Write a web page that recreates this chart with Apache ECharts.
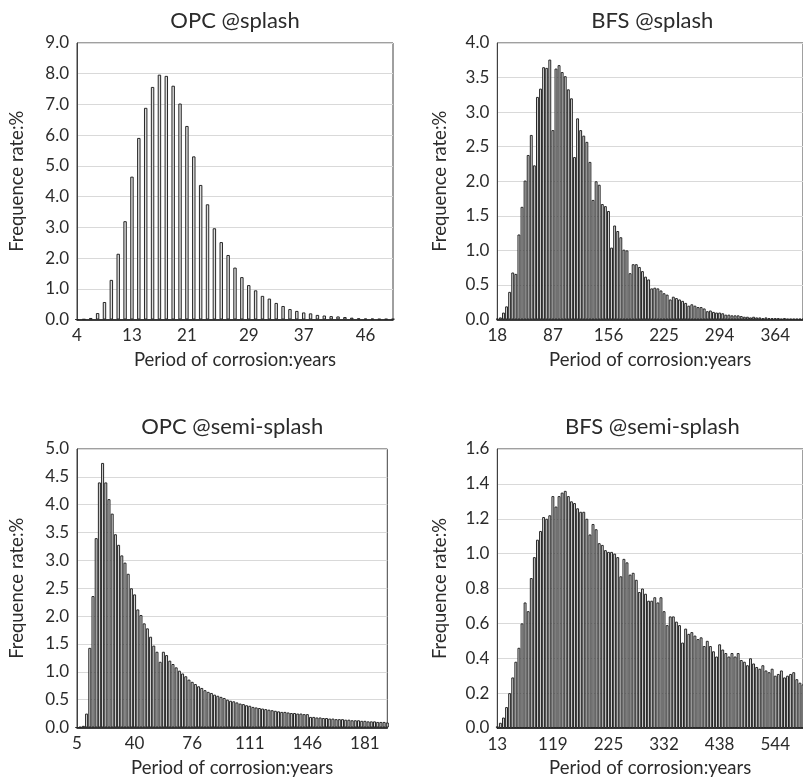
<!DOCTYPE html>
<html><head><meta charset="utf-8">
<script src="https://cdn.jsdelivr.net/npm/echarts@6/dist/echarts.min.js"></script>
<style>html,body{margin:0;padding:0;background:#fff}#c{width:803px;height:780px}</style>
</head><body><div id="c"></div>
<script>
// ---- OPC @splash ----
const opcSplashTicks = ['4','13','21','29','37','46'];
const opcSplashTickIdx = [0,8,16,25,33,42];
const opcSplash = [0,0.01,0.05,0.21,0.57,1.29,2.14,3.2,4.65,5.91,6.89,7.57,7.97,7.93,7.61,7.03,6.3,5.31,4.38,3.75,2.97,2.52,2.1,1.69,1.38,1.12,0.95,0.77,0.68,0.54,0.44,0.34,0.28,0.23,0.2,0.15,0.13,0.11,0.1,0.08,0.06,0.04,0.03,0.03,0.02,0.02,0.02];

// ---- BFS @splash ----
const bfsSplashTicks = ['18','87','156','225','294','364'];
const bfsSplashTickIdx = [0,18,36,54,72,90];
const bfsSplash = [0.01,0.03,0.1,0.19,0.4,0.68,0.66,1.23,1.63,2.01,
2.38,2.67,2.23,3.22,3.34,3.65,3.64,3.76,2.74,3.63,
3.68,3.58,3.52,3.33,3.2,2.35,2.91,2.74,2.66,2.57,
2.28,1.73,2.0,1.95,1.67,1.64,1.57,1.04,1.36,1.28,
1.19,1.01,1.0,0.67,0.8,0.8,0.76,0.7,0.62,0.58,
0.45,0.46,0.45,0.42,0.38,0.36,0.29,0.33,0.31,0.29,
0.27,0.24,0.2,0.22,0.2,0.18,0.18,0.16,0.12,0.13,
0.11,0.1,0.1,0.09,0.07,0.07,0.06,0.06,0.06,0.05,
0.04,0.04,0.03,0.04,0.03,0.03,0.02,0.03,0.02,0.02,
0.02,0.02,0.01,0.02,0.01,0.01,0.01,0.01,0.01,0.01];

// ---- OPC @semi-splash ----
const opcSemiTicks = ['5','40','76','111','146','181'];
const opcSemiTickIdx = [0,18,36,54,72,90];
const opcSemi = [0,0.01,0.03,0.25,1.43,2.36,3.4,4.4,4.75,4.4,
4.1,3.84,3.47,3.28,3.09,2.96,2.76,2.5,2.39,2.12,
2.02,1.87,1.78,1.63,1.47,1.36,1.18,1.36,1.3,1.2,
1.14,1.08,1.02,0.97,0.92,0.86,0.82,0.78,0.74,0.71,
0.67,0.64,0.62,0.59,0.57,0.55,0.53,0.5,0.48,0.47,
0.45,0.43,0.42,0.4,0.39,0.37,0.36,0.35,0.34,0.33,
0.32,0.31,0.3,0.29,0.28,0.28,0.27,0.26,0.26,0.25,
0.25,0.24,0.24,0.19,0.19,0.18,0.18,0.17,0.17,0.16,
0.16,0.15,0.15,0.15,0.14,0.14,0.13,0.13,0.13,0.12,
0.12,0.11,0.11,0.11,0.1,0.1,0.1,0.09];

// ---- BFS @semi-splash ----
const bfsSemiTicks = ['13','119','225','332','438','544'];
const bfsSemiTickIdx = [0,18,36,54,72,90];
const bfsSemi = [0.01,0.03,0.06,0.12,0.2,0.29,0.38,0.46,0.6,0.72,
0.67,0.86,0.98,1.08,1.13,1.21,1.2,1.22,1.33,1.27,
1.33,1.35,1.36,1.33,1.3,1.29,1.26,1.24,1.24,1.2,
1.11,1.17,1.14,1.06,1.05,1.02,1.01,1.01,1.0,0.98,
0.87,0.97,0.95,0.88,0.89,0.85,0.78,0.8,0.77,0.73,
0.73,0.75,0.72,0.75,0.67,0.59,0.64,0.64,0.61,0.59,
0.49,0.57,0.54,0.55,0.53,0.51,0.52,0.47,0.5,0.47,
0.44,0.41,0.48,0.45,0.43,0.41,0.43,0.41,0.43,0.39,
0.38,0.36,0.4,0.37,0.35,0.34,0.36,0.33,0.32,0.34,
0.3,0.31,0.33,0.29,0.3,0.31,0.32,0.28,0.26,0.25];

const FONT = 'Lato';
const TXT = '#2b2b2b';

const panels = [
  {title:'OPC @splash', data:opcSplash, ticks:opcSplashTicks, idx:opcSplashTickIdx, max:9, step:1,
   grid:{left:77, top:43, width:316, height:276.5}, dense:false},
  {title:'BFS @splash', data:bfsSplash, ticks:bfsSplashTicks, idx:bfsSplashTickIdx, max:4, step:0.5,
   grid:{left:497.3, top:43, width:310, height:276.5}, dense:true},
  {title:'OPC @semi-splash', data:opcSemi, ticks:opcSemiTicks, idx:opcSemiTickIdx, max:5, step:0.5,
   grid:{left:77, top:449, width:310.3, height:278.5}, dense:true},
  {title:'BFS @semi-splash', data:bfsSemi, ticks:bfsSemiTicks, idx:bfsSemiTickIdx, max:1.6, step:0.2,
   grid:{left:497.3, top:449, width:310, height:279}, dense:true}
];

const option = {
  animation:false,
  backgroundColor:'#ffffff',
  title: panels.map(p => ({
    text:p.title, left:p.grid.left + p.grid.width/2, top:p.grid.top - 22,
    textAlign:'center', textVerticalAlign:'middle', padding:0,
    textStyle:{fontFamily:FONT, fontSize:22, fontWeight:'normal', color:TXT}
  })),
  grid: panels.map(p => Object.assign({show:true, borderColor:'#404040', borderWidth:1, containLabel:false}, p.grid)),
  xAxis: panels.map((p,i) => ({
    type:'category', gridIndex:i, boundaryGap:false,
    data:p.data.map((_,k)=>k),
    name:'Period of corrosion:years', nameLocation:'middle', nameGap:31,
    nameTextStyle:{fontFamily:FONT, fontSize:18.5, color:TXT},
    axisLine:{show:true, lineStyle:{color:'#000', width:1.5}},
    axisTick:{show:false},
    splitLine:{show:false},
    axisLabel:{
      interval:(k)=>p.idx.indexOf(k)>=0,
      formatter:(v,k)=>{const j=p.idx.indexOf(k); return j>=0?p.ticks[j]:'';},
      fontFamily:FONT, fontSize:17, color:TXT, margin:8
    }
  })),
  yAxis: panels.map((p,i) => ({
    type:'value', gridIndex:i, min:0, max:p.max, interval:p.step,
    name:'Frequence rate:%', nameLocation:'middle', nameRotate:90, nameGap:i%2===0?50:48,
    nameTextStyle:{fontFamily:FONT, fontSize:18.5, color:TXT},
    axisLine:{show:true, lineStyle:{color:'#404040', width:1}},
    axisTick:{show:false},
    splitLine:{show:true, lineStyle:{color:'#d9d9d9', width:1}},
    axisLabel:{formatter:v=>v.toFixed(1), fontFamily:FONT, fontSize:17, color:TXT, margin:8}
  })),
  series: panels.map((p,i) => ({
    type:'bar', xAxisIndex:i, yAxisIndex:i, data:p.data, silent:true,
    barCategoryGap: p.dense ? '6%' : '50%',
    itemStyle:{color:'#dedede', borderColor:'#262626', borderWidth:1}
  }))
};
const chart = echarts.init(document.getElementById('c'), null, {renderer:'canvas'});
chart.setOption(option);
</script></body></html>
